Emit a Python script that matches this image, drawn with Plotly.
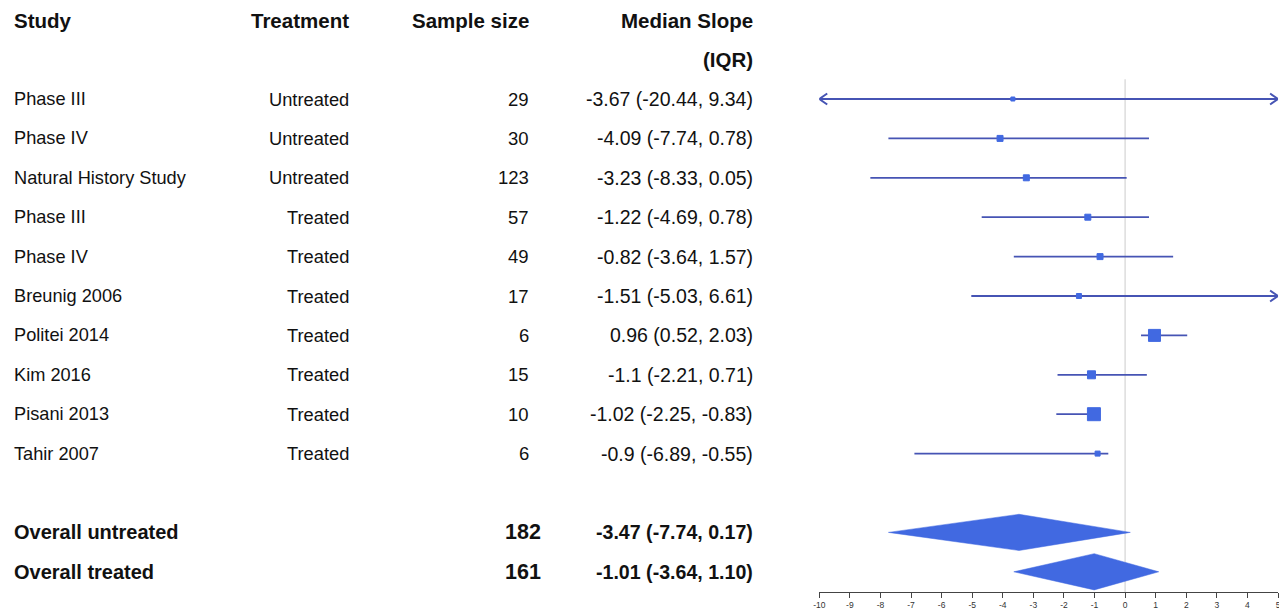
import plotly.graph_objects as go

# ---------------- data ----------------
studies = ["Phase III", "Phase IV", "Natural History Study", "Phase III", "Phase IV",
           "Breunig 2006", "Politei 2014", "Kim 2016", "Pisani 2013", "Tahir 2007"]
treatment = ["Untreated", "Untreated", "Untreated", "Treated", "Treated",
             "Treated", "Treated", "Treated", "Treated", "Treated"]
sample_size = [29, 30, 123, 57, 49, 17, 6, 15, 10, 6]
median = [-3.67, -4.09, -3.23, -1.22, -0.82, -1.51, 0.96, -1.1, -1.02, -0.9]
q1 = [-20.44, -7.74, -8.33, -4.69, -3.64, -5.03, 0.52, -2.21, -2.25, -6.89]
q3 = [9.34, 0.78, 0.05, 0.78, 1.57, 6.61, 2.03, 0.71, -0.83, -0.55]
median_labels = ["-3.67 (-20.44, 9.34)", "-4.09 (-7.74, 0.78)", "-3.23 (-8.33, 0.05)",
                 "-1.22 (-4.69, 0.78)", "-0.82 (-3.64, 1.57)", "-1.51 (-5.03, 6.61)",
                 "0.96 (0.52, 2.03)", "-1.1 (-2.21, 0.71)", "-1.02 (-2.25, -0.83)",
                 "-0.9 (-6.89, -0.55)"]

overall_names = ["Overall untreated", "Overall treated"]
overall_n = [182, 161]
overall_median = [-3.47, -1.01]
overall_q1 = [-7.74, -3.64]
overall_q3 = [0.17, 1.10]
overall_labels = ["-3.47 (-7.74, 0.17)", "-1.01 (-3.64, 1.10)"]

headers = ["Study", "Treatment", "Sample size", "Median Slope"]
x_ticks = list(range(-10, 6))

# ---------------- styling ----------------
# page body has an 8px margin, so the figure is sized to the visible area
W, H = 1279, 605
XMIN, XMAX = -10, 5
square_px = [4, 6, 6, 6, 6, 5, 12, 8, 13, 5]
BLUE = "#4169E1"
LINE = "#4654b4"
FONT = "Liberation Sans, Arial, sans-serif"

study_rows = list(range(len(studies)))
overall_rows = [len(studies) + 1, len(studies) + 2]
y_top, y_bot = -2.31, 12.513

fig = go.Figure()

# reference line at 0
fig.add_trace(go.Scatter(x=[0, 0], y=[-0.5, y_bot], mode="lines",
                         line=dict(color="#dddddd", width=1.5), hoverinfo="skip"))

# whiskers
wx, wy = [], []
for r, lo, hi in zip(study_rows, q1, q3):
    wx += [max(lo, XMIN), min(hi, XMAX), None]
    wy += [r, r, None]
fig.add_trace(go.Scatter(x=wx, y=wy, mode="lines", line=dict(color=LINE, width=1.8),
                         hoverinfo="skip", cliponaxis=False))

# arrow heads for clipped intervals
ax_, ay_ = [], []
dx = 8 / 462 * (XMAX - XMIN)
dy = 5.5 / 584 * (y_bot - y_top)
for r, lo, hi in zip(study_rows, q1, q3):
    if lo < XMIN:
        ax_ += [XMIN + dx, XMIN, XMIN + dx, None]
        ay_ += [r - dy, r, r + dy, None]
    if hi > XMAX:
        ax_ += [XMAX - dx, XMAX, XMAX - dx, None]
        ay_ += [r - dy, r, r + dy, None]
fig.add_trace(go.Scatter(x=ax_, y=ay_, mode="lines", line=dict(color=LINE, width=2),
                         hoverinfo="skip", cliponaxis=False))

# squares
fig.add_trace(go.Scatter(x=median, y=study_rows, mode="markers",
                         marker=dict(symbol="square", size=square_px, color=BLUE, opacity=1,
                                     line=dict(width=1, color=BLUE)),
                         hoverinfo="skip", cliponaxis=False))

# diamonds
half_h = 0.46
for r, m, lo, hi in zip(overall_rows, overall_median, overall_q1, overall_q3):
    fig.add_trace(go.Scatter(x=[lo, m, hi, m, lo], y=[r, r - half_h, r, r + half_h, r],
                             mode="lines", fill="toself", fillcolor=BLUE,
                             line=dict(color=BLUE, width=0.5), hoverinfo="skip",
                             cliponaxis=False))

# ---------------- text table ----------------
ann = []
def add_text(txt, xpx, row, anchor, size, bold=False):
    ann.append(dict(text=f"<b>{txt}</b>" if bold else txt, x=xpx / W, y=row,
                    xref="paper", yref="y", xanchor=anchor, yanchor="middle",
                    showarrow=False, font=dict(family=FONT, size=size, color="#111111")))

col_x = [-2, 339, 521, 746]
col_anchor = ["left", "right", "right", "right"]
for h, xp, an in zip(headers, col_x, col_anchor):
    add_text(h, xp, -2, an, 20.5, bold=True)
add_text("(IQR)", col_x[3], -1, "right", 20.5, bold=True)

for r, s, t, n, lab in zip(study_rows, studies, treatment, sample_size, median_labels):
    add_text(s, col_x[0], r, "left", 18.2)
    add_text(t, col_x[1], r, "right", 18.3)
    add_text(str(n), col_x[2], r, "right", 18.5)
    add_text(lab, col_x[3], r, "right", 19.5)

for r, s, n, lab in zip(overall_rows, overall_names, overall_n, overall_labels):
    add_text(s, col_x[0], r, "left", 20, bold=True)
    add_text(str(n), 533, r, "right", 21.5, bold=True)
    add_text(lab, col_x[3], r, "right", 19.6, bold=True)

fig.update_layout(
    width=W, height=H,
    margin=dict(l=0, r=0, t=0, b=21),
    paper_bgcolor="white", plot_bgcolor="white",
    showlegend=False,
    annotations=ann,
    xaxis=dict(domain=[811 / W, 1273 / W], range=[XMIN, XMAX], showgrid=False,
               zeroline=False, showline=True, linecolor="#444444", linewidth=1,
               ticks="outside", ticklen=5, tickcolor="#444444", tickwidth=1,
               tickvals=x_ticks, ticktext=[str(v) for v in x_ticks],
               tickfont=dict(family=FONT, size=8.5, color="#333333"), fixedrange=True),
    yaxis=dict(range=[y_bot, y_top], visible=False, fixedrange=True),
)

fig.write_html("out.html")
